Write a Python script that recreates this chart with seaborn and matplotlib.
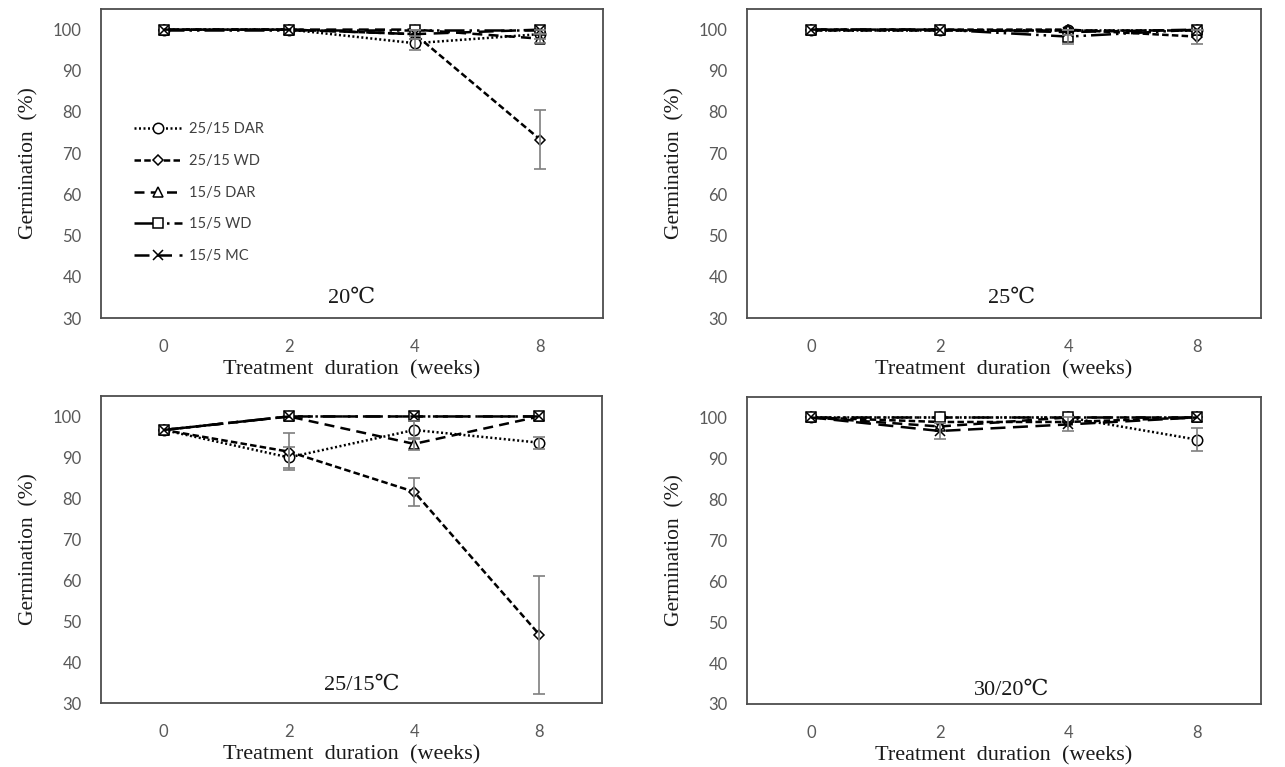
import numpy as np
import pandas as pd
import matplotlib
matplotlib.use("Agg")
import matplotlib.pyplot as plt
import seaborn as sns

# ---------------- data ----------------
weeks = ["0", "2", "4", "8"]
series_names = ["25/15 DAR", "25/15 WD", "15/5 DAR", "15/5 WD", "15/5 MC"]
panel_titles = ["20℃", "25℃", "25/15℃", "30/20℃"]

# 20 C panel
t20_dar2515 = [100, 100, 96.7, 98.9]
t20_dar2515_err = [0, 0, 1.7, 1.1]
t20_wd2515 = [100, 100, 98.9, 73.3]
t20_wd2515_err = [0, 0, 1.1, 7.2]
t20_dar155 = [100, 100, 100, 97.8]
t20_dar155_err = [0, 0, 0, 1.1]
t20_wd155 = [100, 100, 100, 100]
t20_wd155_err = [0, 0, 0, 0]
t20_mc155 = [100, 100, 98.9, 100]
t20_mc155_err = [0, 0, 1.1, 0]

# 25 C panel
t25_dar2515 = [100, 100, 100, 100]
t25_dar2515_err = [0, 0, 0, 0]
t25_wd2515 = [100, 100, 100, 98.3]
t25_wd2515_err = [0, 0, 0, 1.7]
t25_dar155 = [100, 100, 100, 100]
t25_dar155_err = [0, 0, 0, 0]
t25_wd155 = [100, 100, 98.3, 100]
t25_wd155_err = [0, 0, 1.7, 0]
t25_mc155 = [100, 100, 99.4, 100]
t25_mc155_err = [0, 0, 0.6, 0]

# 25/15 C panel
t2515_dar2515 = [96.7, 90.0, 96.7, 93.6]
t2515_dar2515_err = [0, 2.6, 2.2, 1.5]
t2515_wd2515 = [96.7, 91.4, 81.6, 46.7]
t2515_wd2515_err = [0, 4.5, 3.4, 14.4]
t2515_dar155 = [96.7, 100, 93.3, 100]
t2515_dar155_err = [0, 0, 1.5, 0]
t2515_wd155 = [96.7, 100, 100, 100]
t2515_wd155_err = [0, 0, 0, 0]
t2515_mc155 = [96.7, 100, 100, 100]
t2515_mc155_err = [0, 0, 0, 0]

# 30/20 C panel
t3020_dar2515 = [100, 100, 100, 94.6]
t3020_dar2515_err = [0, 0, 0, 2.9]
t3020_wd2515 = [100, 98.9, 98.9, 100]
t3020_wd2515_err = [0, 0, 0, 0]
t3020_dar155 = [100, 97.8, 100, 100]
t3020_dar155_err = [0, 0, 0, 0]
t3020_wd155 = [100, 100, 100, 100]
t3020_wd155_err = [0, 0, 0, 0]
t3020_mc155 = [100, 96.7, 98.3, 100]
t3020_mc155_err = [0, 1.9, 1.7, 0]

panels = [
    [(t20_dar2515, t20_dar2515_err), (t20_wd2515, t20_wd2515_err), (t20_dar155, t20_dar155_err),
     (t20_wd155, t20_wd155_err), (t20_mc155, t20_mc155_err)],
    [(t25_dar2515, t25_dar2515_err), (t25_wd2515, t25_wd2515_err), (t25_dar155, t25_dar155_err),
     (t25_wd155, t25_wd155_err), (t25_mc155, t25_mc155_err)],
    [(t2515_dar2515, t2515_dar2515_err), (t2515_wd2515, t2515_wd2515_err), (t2515_dar155, t2515_dar155_err),
     (t2515_wd155, t2515_wd155_err), (t2515_mc155, t2515_mc155_err)],
    [(t3020_dar2515, t3020_dar2515_err), (t3020_wd2515, t3020_wd2515_err), (t3020_dar155, t3020_dar155_err),
     (t3020_wd155, t3020_wd155_err), (t3020_mc155, t3020_mc155_err)],
]

# ---------------- style ----------------
sns.set_theme(style="white")
plt.rcParams["font.family"] = ["Lato", "DejaVu Sans"]

styles = {
    "25/15 DAR": dict(linestyle=(0, (0.8, 1.0)), marker="o", markersize=7.5),
    "25/15 WD": dict(linestyle=(0, (2.6, 1.3)), marker="D", markersize=5.5),
    "15/5 DAR": dict(linestyle=(0, (4.0, 2.5)), marker="^", markersize=7.5),
    "15/5 WD": dict(linestyle=(0, (8, 2, 1, 2, 1, 2)), marker="s", markersize=7.5),
    "15/5 MC": dict(linestyle=(0, (6, 3)), marker="x", markersize=7.5),
}

W, H = 1285, 767
fig = plt.figure(figsize=(W / 100, H / 100), dpi=100)

# axes boxes in pixels: left, top, right, bottom
boxes = [(101, 9, 603, 318), (747, 9, 1261, 318), (101, 396, 602, 703), (747, 397, 1261, 704)]
title_pos = [(0.50, 0.064), (0.515, 0.064), (0.52, 0.058), (0.515, 0.046)]

serif = ["Liberation Serif", "DejaVu Serif"]
axes = []
for pi, (l, t, r, b) in enumerate(boxes):
    ax = fig.add_axes([l / W, 1 - b / H, (r - l) / W, (b - t) / H])
    axes.append(ax)
    for si, name in enumerate(series_names):
        vals, errs = panels[pi][si]
        df = pd.DataFrame({"week": weeks, "germ": vals, "err": errs})
        st = styles[name]
        sns.lineplot(data=df, x="week", y="germ", ax=ax, color="black", linewidth=1.8,
                     linestyle=st["linestyle"], marker=st["marker"], markersize=st["markersize"],
                     markerfacecolor="white", markeredgecolor="black", markeredgewidth=1.1,
                     errorbar=None, sort=False, label=name, zorder=3 + si)
        sub = df[df["err"] > 0]
        if len(sub):
            ax.errorbar(sub["week"], sub["germ"], yerr=sub["err"], fmt="none",
                        ecolor="#7f7f7f", elinewidth=1.2, capsize=4, capthick=1.2, zorder=10)
    ax.set_xlim(-0.5, 3.5)
    ax.set_ylim(30, 105)
    ax.set_yticks(range(30, 101, 10))
    ax.tick_params(axis="both", length=0, labelsize=12, labelcolor="#595959")
    ax.tick_params(axis="x", pad=15)
    ax.tick_params(axis="y", pad=14)
    for sp in ax.spines.values():
        sp.set_color("#4d4d4d")
        sp.set_linewidth(1.3)
    ax.set_xlabel("Treatment  duration  (weeks)", fontsize=16, family=serif, color="#1a1a1a", labelpad=4)
    ax.set_ylabel("Germination  (%)", fontsize=15.5, family=serif, color="#1a1a1a", labelpad=10)
    ax.text(title_pos[pi][0], title_pos[pi][1], panel_titles[pi], transform=ax.transAxes,
            ha="center", va="center", fontsize=16, family=serif, color="#1a1a1a")
    leg = ax.get_legend()
    if leg is not None:
        leg.remove()

leg = axes[0].legend(loc="upper left", bbox_to_anchor=(0.065, 0.634), frameon=False,
                     fontsize=10.5, handlelength=3.3, handletextpad=0.5, labelspacing=1.22,
                     borderaxespad=0, borderpad=0)
for txt in leg.get_texts():
    txt.set_color("#404040")

fig.savefig("out.png", dpi=100, facecolor="white")
